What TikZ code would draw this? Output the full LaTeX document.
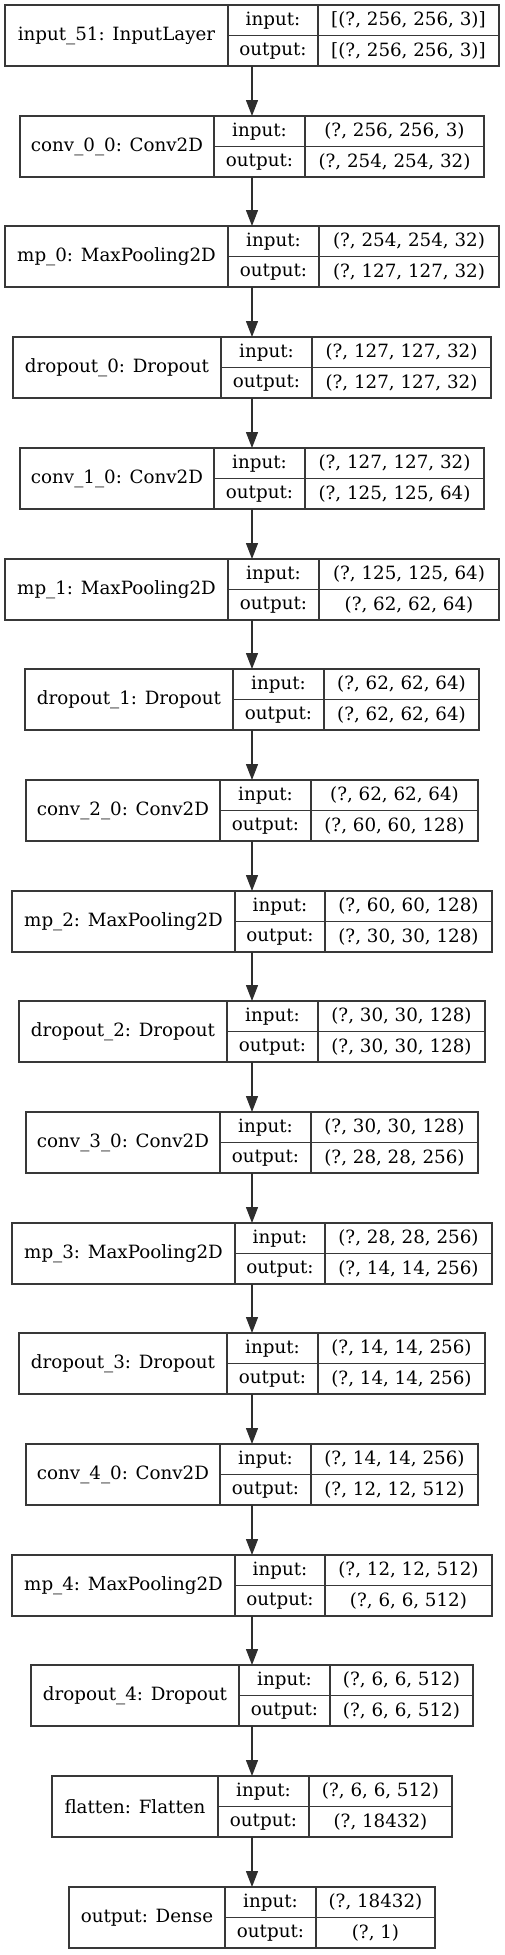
\documentclass[tikz,border=0pt]{standalone}
\usepackage{fontspec}
\setmainfont{DejaVu Serif}
\usetikzlibrary{arrows.meta}

\newdimen\pxunit
\pxunit=0.02cm

% one keras layer record: id, top, left, split1, split2, right, name, input, output
\newcommand{\kerasrow}[9]{%
  \node[record, minimum width={(#6-#3)*\pxunit}, anchor=north west] (#1) at (#3,#2) {};
  \node[cell, minimum width={(#4-#3)*\pxunit}, minimum height={61*\pxunit}, anchor=north west] (#1-name) at (#3,#2) {#7};
  \node[cell, minimum width={(#5-#4)*\pxunit}, anchor=north west] (#1-inl) at (#4,#2) {input:};
  \node[cell, minimum width={(#5-#4)*\pxunit}, anchor=south west] (#1-outl) at (#4,#2+61) {output:};
  \node[cell, minimum width={(#6-#5)*\pxunit}, anchor=north west] (#1-inv) at (#5,#2) {#8};
  \node[cell, minimum width={(#6-#5)*\pxunit}, anchor=south west] (#1-outv) at (#5,#2+61) {#9};%
}

\begin{document}
\begin{tikzpicture}[
    x=0.02cm, y=-0.02cm,
    record/.style={draw=black!78, line width=0.7pt, inner sep=0pt, outer sep=0pt, minimum height={61*\pxunit}},
    cell/.style={draw=black!78, line width=0.7pt, inner sep=0pt, outer sep=0pt, align=center, minimum height={30.5*\pxunit}, font=\fontsize{10.4}{12}\selectfont},
    flow/.style={-{Triangle[length=0.32cm, width=0.24cm]}, draw=black!82, line width=0.75pt}
]
\useasboundingbox (0,0) rectangle (504,1955);

\kerasrow{in51}{5}{5}{228}{318}{499}{input\_51: InputLayer}{[(?, 256, 256, 3)]}{[(?, 256, 256, 3)]}
\kerasrow{conv00}{116}{20}{214}{305}{484}{conv\_0\_0: Conv2D}{(?, 256, 256, 3)}{(?, 254, 254, 32)}
\kerasrow{mp0}{226}{5}{228}{319}{499}{mp\_0: MaxPooling2D}{(?, 254, 254, 32)}{(?, 127, 127, 32)}
\kerasrow{drop0}{337}{13}{221}{312}{491}{dropout\_0: Dropout}{(?, 127, 127, 32)}{(?, 127, 127, 32)}
\kerasrow{conv10}{448}{20}{214}{305}{484}{conv\_1\_0: Conv2D}{(?, 127, 127, 32)}{(?, 125, 125, 64)}
\kerasrow{mp1}{559}{5}{228}{319}{499}{mp\_1: MaxPooling2D}{(?, 125, 125, 64)}{(?, 62, 62, 64)}
\kerasrow{drop1}{669}{25}{233}{324}{479}{dropout\_1: Dropout}{(?, 62, 62, 64)}{(?, 62, 62, 64)}
\kerasrow{conv20}{780}{26}{220}{311}{478}{conv\_2\_0: Conv2D}{(?, 62, 62, 64)}{(?, 60, 60, 128)}
\kerasrow{mp2}{891}{12}{235}{325}{492}{mp\_2: MaxPooling2D}{(?, 60, 60, 128)}{(?, 30, 30, 128)}
\kerasrow{drop2}{1001}{19}{227}{318}{485}{dropout\_2: Dropout}{(?, 30, 30, 128)}{(?, 30, 30, 128)}
\kerasrow{conv30}{1112}{26}{220}{311}{478}{conv\_3\_0: Conv2D}{(?, 30, 30, 128)}{(?, 28, 28, 256)}
\kerasrow{mp3}{1223}{12}{235}{325}{492}{mp\_3: MaxPooling2D}{(?, 28, 28, 256)}{(?, 14, 14, 256)}
\kerasrow{drop3}{1333}{19}{227}{318}{485}{dropout\_3: Dropout}{(?, 14, 14, 256)}{(?, 14, 14, 256)}
\kerasrow{conv40}{1444}{26}{220}{311}{478}{conv\_4\_0: Conv2D}{(?, 14, 14, 256)}{(?, 12, 12, 512)}
\kerasrow{mp4}{1555}{12}{235}{325}{492}{mp\_4: MaxPooling2D}{(?, 12, 12, 512)}{(?, 6, 6, 512)}
\kerasrow{drop4}{1665}{31}{239}{330}{473}{dropout\_4: Dropout}{(?, 6, 6, 512)}{(?, 6, 6, 512)}
\kerasrow{flat}{1776}{52}{218}{309}{452}{flatten: Flatten}{(?, 6, 6, 512)}{(?, 18432)}
\kerasrow{dense}{1887}{69}{225}{316}{435}{output: Dense}{(?, 18432)}{(?, 1)}

\draw[flow] (in51.south) -- (in51.south |- conv00.north);
\draw[flow] (conv00.south) -- (conv00.south |- mp0.north);
\draw[flow] (mp0.south) -- (mp0.south |- drop0.north);
\draw[flow] (drop0.south) -- (drop0.south |- conv10.north);
\draw[flow] (conv10.south) -- (conv10.south |- mp1.north);
\draw[flow] (mp1.south) -- (mp1.south |- drop1.north);
\draw[flow] (drop1.south) -- (drop1.south |- conv20.north);
\draw[flow] (conv20.south) -- (conv20.south |- mp2.north);
\draw[flow] (mp2.south) -- (mp2.south |- drop2.north);
\draw[flow] (drop2.south) -- (drop2.south |- conv30.north);
\draw[flow] (conv30.south) -- (conv30.south |- mp3.north);
\draw[flow] (mp3.south) -- (mp3.south |- drop3.north);
\draw[flow] (drop3.south) -- (drop3.south |- conv40.north);
\draw[flow] (conv40.south) -- (conv40.south |- mp4.north);
\draw[flow] (mp4.south) -- (mp4.south |- drop4.north);
\draw[flow] (drop4.south) -- (drop4.south |- flat.north);
\draw[flow] (flat.south) -- (flat.south |- dense.north);
\end{tikzpicture}
\end{document}
